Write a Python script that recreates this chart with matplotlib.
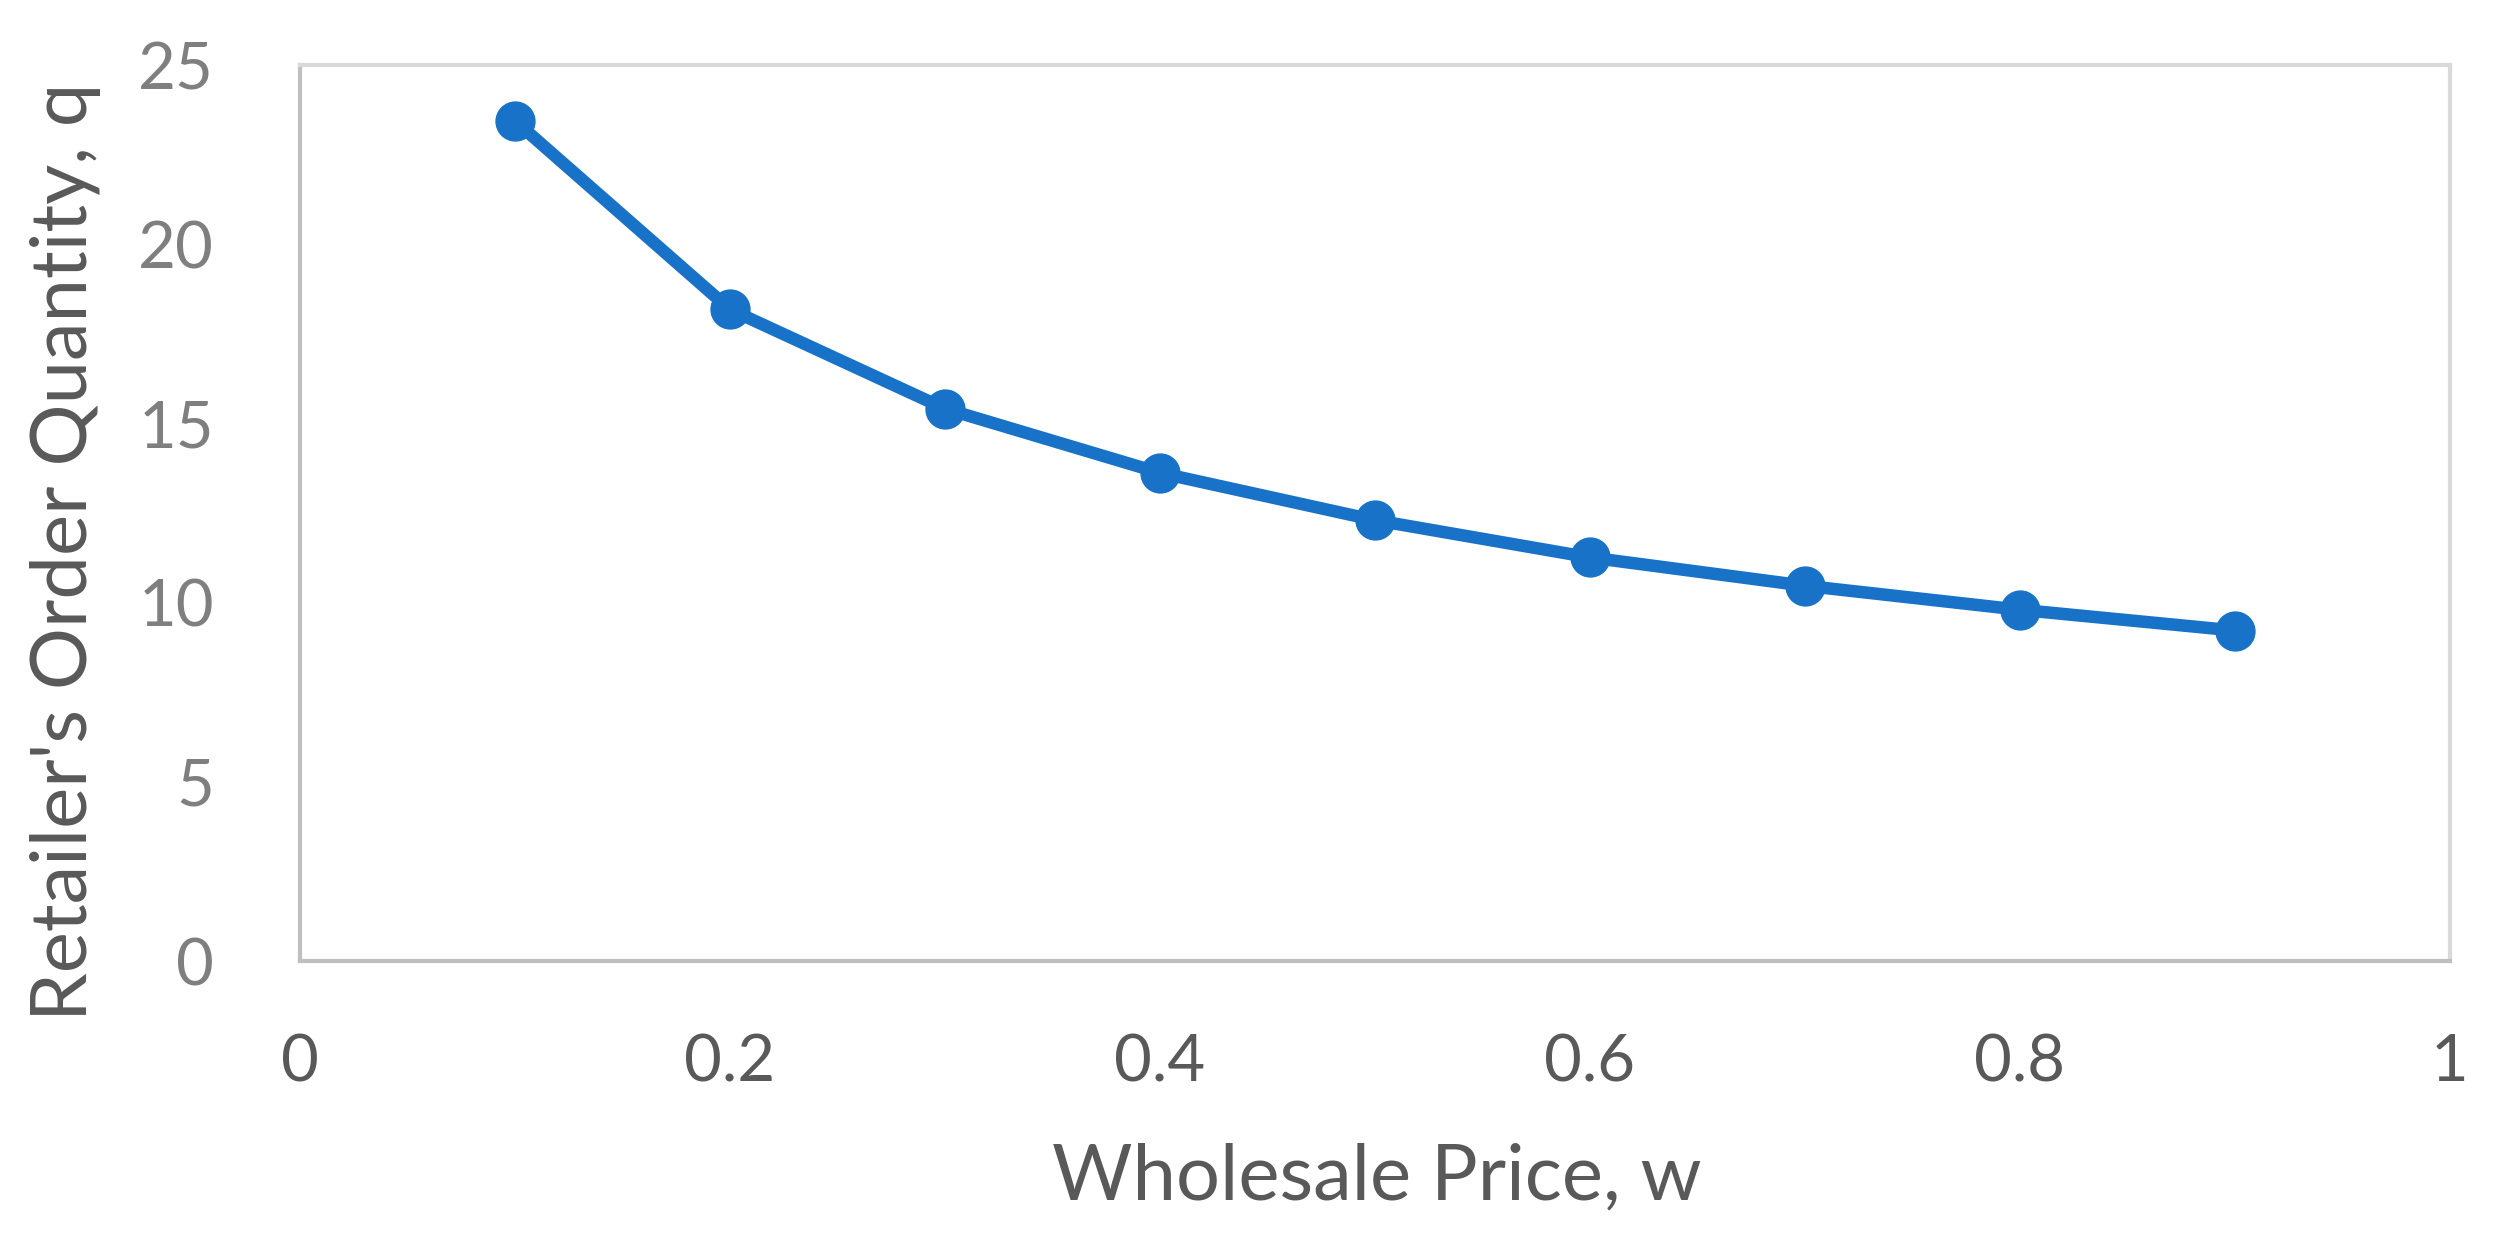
#! /bin/env python3
# plot.py
# retailer's order quantity vs wholesale price, excel style line chart

import matplotlib
matplotlib.use("Agg")
import matplotlib.pyplot as plt

# data
wholesale_price = [0.1, 0.2, 0.3, 0.4, 0.5, 0.6, 0.7, 0.8, 0.9]
order_quantity = [23.44, 18.18, 15.41, 13.62, 12.30, 11.26, 10.47, 9.80, 9.22]

x_ticks = [0, 0.2, 0.4, 0.6, 0.8, 1]
x_tick_labels = ["0", "0.2", "0.4", "0.6", "0.8", "1"]
y_ticks = [0, 5, 10, 15, 20, 25]

x_title = "Wholesale Price, w"
y_title = "Retailer's Order Quantity, q"

plt.rcParams['font.family'] = ['Lato', 'DejaVu Sans']

W, H = 2496, 1250
fig = plt.figure(figsize=(W / 100, H / 100), dpi=100)
# axes box in pixels: left 300, right 2450, top 65, bottom 961
ax = fig.add_axes([300 / W, 1 - 961 / H, (2450 - 300) / W, (961 - 65) / H])

line_color = "#1872c8"
ax.plot(wholesale_price, order_quantity, color=line_color, linewidth=9,
        marker="o", markersize=28, markerfacecolor=line_color,
        markeredgecolor=line_color, solid_capstyle="round")

ax.set_xlim(0, 1)
ax.set_ylim(0, 25)
ax.set_xticks(x_ticks)
ax.set_xticklabels(x_tick_labels)
ax.set_yticks(y_ticks)

# frame: darker left/bottom, lighter top/right
ax.spines['left'].set_color("#bfbfbf")
ax.spines['bottom'].set_color("#bfbfbf")
ax.spines['top'].set_color("#d9d9d9")
ax.spines['right'].set_color("#d9d9d9")
for s in ax.spines.values():
    s.set_linewidth(3)

ax.tick_params(axis="x", length=0, pad=52, labelsize=47, labelcolor="#595959")
ax.tick_params(axis="y", length=0, pad=62, labelsize=47, labelcolor="#7f7f7f")

fig.text(1377 / W, 1 - 1178 / H, x_title, ha="center", va="center",
         fontsize=56, color="#595959")
fig.text(66 / W, 1 - 552 / H, y_title, ha="center", va="center",
         rotation=90, fontsize=56, color="#595959")

fig.savefig("out.png", dpi=100, facecolor="white")
